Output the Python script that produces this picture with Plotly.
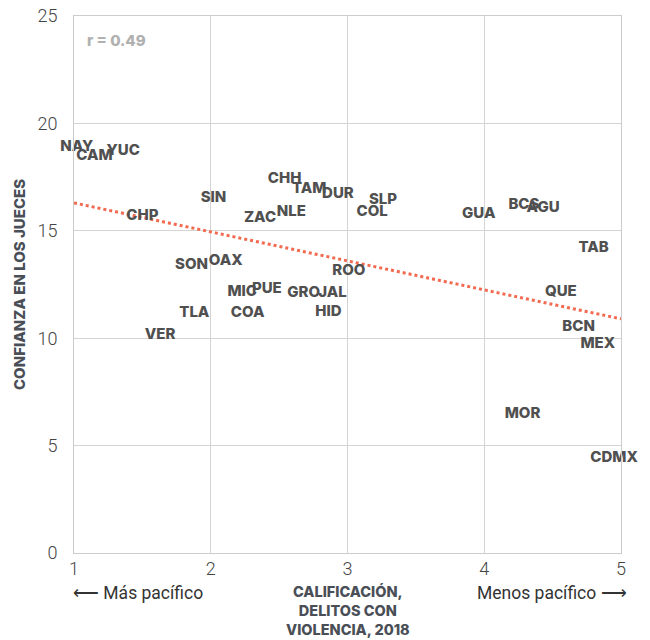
import plotly.graph_objs as go

estados = ["NAY", "CAM", "YUC", "CHP", "SIN", "ZAC", "NLE", "CHH", "TAM", "DUR",
           "SLP", "COL", "GUA", "BCS", "AGU", "TAB", "QUE", "BCN", "MEX", "MOR",
           "CDMX", "SON", "OAX", "ROO", "MIC", "PUE", "GRO", "JAL", "HID", "TLA",
           "COA", "VER"]
calificacion = [1.02, 1.15, 1.36, 1.50, 2.02, 2.36, 2.59, 2.54, 2.72, 2.93,
                3.26, 3.18, 3.96, 4.29, 4.43, 4.80, 4.56, 4.69, 4.83, 4.28,
                4.95, 1.86, 2.11, 3.01, 2.23, 2.41, 2.68, 2.89, 2.86, 1.88,
                2.27, 1.63]
confianza = [18.9, 18.45, 18.7, 15.7, 16.5, 15.6, 15.85, 17.4, 16.95, 16.7,
             16.4, 15.85, 15.75, 16.2, 16.05, 14.2, 12.15, 10.5, 9.7, 6.45,
             4.4, 13.4, 13.6, 13.1, 12.15, 12.3, 12.1, 12.1, 11.2, 11.15,
             11.15, 10.15]
tendencia_x = [1, 5]
tendencia_y = [16.3, 10.9]

fig = go.Figure()
fig.add_trace(
    go.Scatter(
        x=tendencia_x,
        y=tendencia_y,
        mode="lines",
        line=dict(color="#f26a4f", width=3, dash="dot"),
        hoverinfo="skip",
    )
)
fig.add_trace(
    go.Scatter(
        x=calificacion,
        y=confianza,
        mode="text",
        text=estados,
        textposition="middle center",
        cliponaxis=False,
        textfont=dict(family="Inter", size=15, color="#505050", weight=800),
    )
)

# the page adds ~8px body margin, so the figure is a bit smaller than the window
axis_font = dict(family="Roboto", size=18, color="#444444", weight=300)
fig.update_layout(
    width=642,
    height=632,
    margin=dict(l=66, r=29, t=8, b=87),
    paper_bgcolor="white",
    plot_bgcolor="white",
    showlegend=False,
    xaxis=dict(
        range=[1, 5],
        tickvals=[1, 2, 3, 4, 5],
        showgrid=True,
        gridcolor="#d4d4d4",
        showline=True,
        linecolor="#cccccc",
        mirror=True,
        zeroline=False,
        tickfont=axis_font,
        ticks="",
        ticklabelstandoff=-1,
        ticklabeloverflow="allow",
        automargin=False,
    ),
    yaxis=dict(
        range=[0, 25],
        tickvals=[0, 5, 10, 15, 20, 25],
        showgrid=True,
        gridcolor="#d4d4d4",
        showline=True,
        linecolor="#cccccc",
        mirror=True,
        zeroline=False,
        tickfont=axis_font,
        ticks="",
        ticklabelstandoff=12,
        ticklabeloverflow="allow",
        automargin=False,
        title=dict(
            text="CONFIANZA EN LOS JUECES",
            font=dict(family="Inter", size=15, color="#4a4f57", weight=800),
            standoff=8,
        ),
    ),
)

fig.add_annotation(
    x=0.02, y=0.975, xref="paper", yref="paper", xanchor="left", yanchor="top",
    text="r = 0.49", showarrow=False,
    font=dict(family="Inter", size=15, color="#b0b0b0", weight=800),
)
fig.add_annotation(
    x=0.5, y=-0.053, xref="paper", yref="paper", xanchor="center", yanchor="top",
    text="CALIFICACIÓN,<br>DELITOS CON<br>VIOLENCIA, 2018", showarrow=False,
    font=dict(family="Inter", size=14.5, color="#4a4f57", weight=800),
)
fig.add_annotation(
    x=-0.005, y=-0.053, xref="paper", yref="paper", xanchor="left", yanchor="top",
    text="⟵ Más pacífico", showarrow=False,
    font=dict(family="Roboto", size=17.5, color="#333333"),
)
fig.add_annotation(
    x=1.015, y=-0.053, xref="paper", yref="paper", xanchor="right", yanchor="top",
    text="Menos pacífico ⟶", showarrow=False,
    font=dict(family="Roboto", size=17.5, color="#333333"),
)

fig.write_html("out.html")
